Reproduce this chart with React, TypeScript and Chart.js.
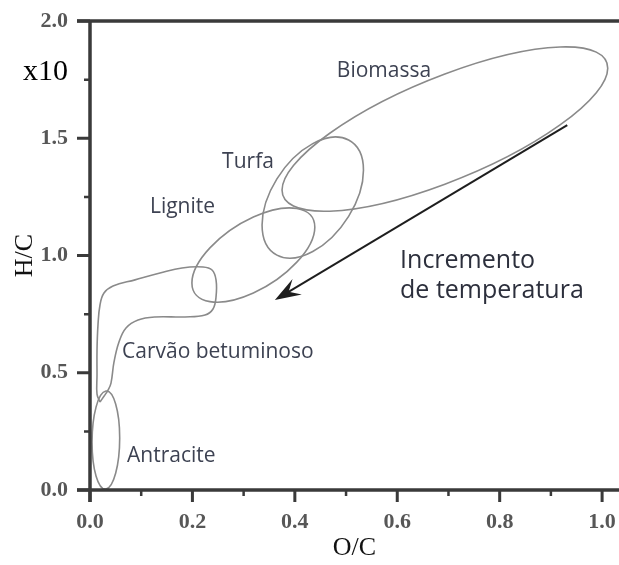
import React, { useEffect, useRef } from 'react';
import { Chart, registerables } from 'chart.js';

Chart.register(...registerables);

// ---- axes ----
const X_MIN = 0;
const X_MAX = 1.033;
const Y_MIN = 0;
const Y_MAX = 2.0;
const xMajorTicks = [0, 0.2, 0.4, 0.6, 0.8, 1.0];
const xMinorTicks = [0.1, 0.3, 0.5, 0.7, 0.9];
const yMajorTicks = [0, 0.5, 1.0, 1.5, 2.0];
const yMinorTicks = [0.25, 0.75, 1.25, 1.75];
const xTitle = 'O/C';
const yTitle = 'H/C';
const yMultiplier = 'x10';

// ---- elliptical regions (centre, conjugate semi-diameters, data units) ----
const regionNames = ['Biomassa', 'Turfa', 'Lignite', 'Antracite'];
const regionCenterX = [0.693, 0.435, 0.319, 0.031];
const regionCenterY = [1.539, 1.247, 1.002, 0.213];
const regionUX = [0.318, 0.099, 0.120, 0.027];
const regionUY = [0.260, 0.117, 0.119, 0.009];
const regionVY = [0.235, 0.230, 0.162, 0.209];

// ---- Carvão betuminoso outline (data units) ----
const carvaoX = [0.0195, 0.0137, 0.0137, 0.0137, 0.0156, 0.0195, 0.0273, 0.0449, 0.0879, 0.1367, 0.1797, 0.2207, 0.2383, 0.2461, 0.2461, 0.2402, 0.2246, 0.1855, 0.1270, 0.0938, 0.0703, 0.0566, 0.0469, 0.0410, 0.0352, 0.0273, 0.0195];
const carvaoY = [0.375, 0.409, 0.490, 0.597, 0.704, 0.789, 0.840, 0.870, 0.896, 0.925, 0.947, 0.951, 0.938, 0.896, 0.823, 0.772, 0.746, 0.738, 0.738, 0.725, 0.691, 0.631, 0.546, 0.456, 0.426, 0.400, 0.375];

// ---- labels ----
const labelTexts = ['Biomassa', 'Turfa', 'Lignite', 'Carvão betuminoso', 'Antracite'];
const labelX = [0.482, 0.258, 0.117, 0.0625, 0.0723];
const labelY = [1.761, 1.373, 1.181, 0.563, 0.119];

// ---- arrow ----
const arrowFrom = [0.932, 1.556];
const arrowTo = [0.361, 0.810];
const arrowTexts = ['Incremento', 'de temperatura'];
const arrowTextX = 0.6055;
const arrowTextY = [0.947, 0.819];

const SERIF = "'Liberation Serif', 'Times New Roman', serif";
const SANS = "'Open Sans', 'Noto Sans', sans-serif";

const decorPlugin = {
  id: 'decor',
  afterDraw(chart: any) {
    const { ctx, chartArea: a } = chart;
    const xs = chart.scales.x;
    const ys = chart.scales.y;
    const px = (v: number) => xs.getPixelForValue(v);
    const py = (v: number) => ys.getPixelForValue(v);
    ctx.save();

    // ellipses
    ctx.strokeStyle = '#8a8a8a';
    ctx.lineWidth = 1.6;
    regionNames.forEach((_, i) => {
      const cx = px(regionCenterX[i]);
      const cy = py(regionCenterY[i]);
      const ux = px(regionCenterX[i] + regionUX[i]) - cx;
      const uy = py(regionCenterY[i] + regionUY[i]) - cy;
      const vy = py(regionCenterY[i] + regionVY[i]) - cy;
      ctx.save();
      ctx.beginPath();
      ctx.translate(cx, cy);
      ctx.transform(ux, uy, 0, vy, 0, 0);
      ctx.arc(0, 0, 1, 0, Math.PI * 2);
      ctx.restore();
      ctx.stroke();
    });

    // arrow
    const x0 = px(arrowFrom[0]), y0 = py(arrowFrom[1]);
    const x1 = px(arrowTo[0]), y1 = py(arrowTo[1]);
    const ang = Math.atan2(y1 - y0, x1 - x0);
    const cos = Math.cos(ang), sin = Math.sin(ang);
    ctx.strokeStyle = '#1e1e1e';
    ctx.fillStyle = '#1e1e1e';
    ctx.lineWidth = 2;
    ctx.beginPath();
    ctx.moveTo(x0, y0);
    ctx.lineTo(x1 - cos * 12, y1 - sin * 12);
    ctx.stroke();
    const L = 26, W = 9, N = 16;
    ctx.beginPath();
    ctx.moveTo(x1, y1);
    ctx.lineTo(x1 - cos * L - sin * W, y1 - sin * L + cos * W);
    ctx.lineTo(x1 - cos * N, y1 - sin * N);
    ctx.lineTo(x1 - cos * L + sin * W, y1 - sin * L - cos * W);
    ctx.closePath();
    ctx.fill();

    // region labels
    ctx.fillStyle = '#3d4252';
    ctx.font = `21px ${SANS}`;
    ctx.textAlign = 'left';
    ctx.textBaseline = 'alphabetic';
    labelTexts.forEach((t, i) => ctx.fillText(t, px(labelX[i]), py(labelY[i])));

    ctx.fillStyle = '#2c2f3c';
    ctx.font = `25px ${SANS}`;
    arrowTexts.forEach((t, i) => ctx.fillText(t, px(arrowTextX), py(arrowTextY[i])));

    // axes frame
    ctx.strokeStyle = '#3a3a3a';
    ctx.lineWidth = 3.5;
    ctx.beginPath();
    ctx.moveTo(a.left, a.top - 1.75);
    ctx.lineTo(a.left, a.bottom + 12);
    ctx.moveTo(a.left - 13, a.bottom);
    ctx.lineTo(a.right, a.bottom);
    ctx.moveTo(a.left - 13, a.top);
    ctx.lineTo(a.right, a.top);
    ctx.stroke();

    ctx.lineWidth = 3;
    ctx.beginPath();
    xMajorTicks.forEach((v) => {
      ctx.moveTo(px(v), a.bottom);
      ctx.lineTo(px(v), a.bottom + 12);
    });
    yMajorTicks.forEach((v) => {
      ctx.moveTo(a.left, py(v));
      ctx.lineTo(a.left - 13, py(v));
    });
    ctx.stroke();
    ctx.lineWidth = 2.5;
    ctx.beginPath();
    xMinorTicks.forEach((v) => {
      ctx.moveTo(px(v), a.bottom);
      ctx.lineTo(px(v), a.bottom + 6);
    });
    yMinorTicks.forEach((v) => {
      ctx.moveTo(a.left, py(v));
      ctx.lineTo(a.left - 6, py(v));
    });
    ctx.stroke();

    // multiplier
    ctx.fillStyle = '#000';
    ctx.font = `30px ${SERIF}`;
    ctx.textAlign = 'right';
    ctx.textBaseline = 'middle';
    ctx.fillText(yMultiplier, a.left - 22, py(1.78));

    ctx.restore();
  },
};

export default function App() {
  const ref = useRef<HTMLCanvasElement>(null);
  useEffect(() => {
    document.body.style.margin = '0';
    const canvas = ref.current!;
    const chart = new Chart(canvas, {
      type: 'scatter',
      data: {
        datasets: [
          {
            label: 'Carvão betuminoso',
            data: carvaoX.map((x, i) => ({ x, y: carvaoY[i] })),
            showLine: true,
            tension: 0.4,
            borderColor: '#8a8a8a',
            borderWidth: 1.6,
            pointRadius: 0,
            fill: false,
          },
        ],
      },
      options: {
        responsive: false,
        animation: false,
        devicePixelRatio: 1,
        layout: { padding: { top: 21, left: 0, right: 0, bottom: 0 } },
        plugins: { legend: { display: false }, tooltip: { enabled: false } },
        scales: {
          x: {
            type: 'linear',
            min: X_MIN,
            max: X_MAX,
            afterBuildTicks: (s: any) => {
              s.ticks = xMajorTicks.map((value) => ({ value }));
            },
            afterFit: (s: any) => {
              s.height = 75;
              s.paddingLeft = 0;
              s.paddingRight = 0;
              s.paddingTop = 0;
              s.paddingBottom = 0;
            },
            grid: { display: false, drawTicks: false },
            border: { display: false },
            ticks: {
              autoSkip: false,
              maxRotation: 0,
              padding: 19,
              color: '#575757',
              font: { family: SERIF, size: 22, weight: 'bold' },
              callback: (v: any) => Number(v).toFixed(1),
            },
            title: {
              display: true,
              text: xTitle,
              color: '#111',
              font: { family: SERIF, size: 26 },
              padding: { top: 0, bottom: 1 },
            },
          },
          y: {
            type: 'linear',
            min: Y_MIN,
            max: Y_MAX,
            afterBuildTicks: (s: any) => {
              s.ticks = yMajorTicks.map((value) => ({ value }));
            },
            afterFit: (s: any) => {
              s.width = 90;
              s.paddingLeft = 0;
              s.paddingRight = 0;
              s.paddingTop = 0;
              s.paddingBottom = 0;
            },
            grid: { display: false, drawTicks: false },
            border: { display: false },
            ticks: {
              autoSkip: false,
              padding: 22,
              color: '#575757',
              font: { family: SERIF, size: 22, weight: 'bold' },
              callback: (v: any) => Number(v).toFixed(1),
            },
            title: {
              display: true,
              text: yTitle,
              color: '#111',
              font: { family: SERIF, size: 26 },
              padding: { top: 10, bottom: 0 },
            },
          },
        },
      },
      plugins: [decorPlugin],
    });
    return () => chart.destroy();
  }, []);
  return (
    <div style={{ width: 619, height: 565 }}>
      <canvas ref={ref} width={619} height={565} style={{ display: 'block' }} />
    </div>
  );
}
